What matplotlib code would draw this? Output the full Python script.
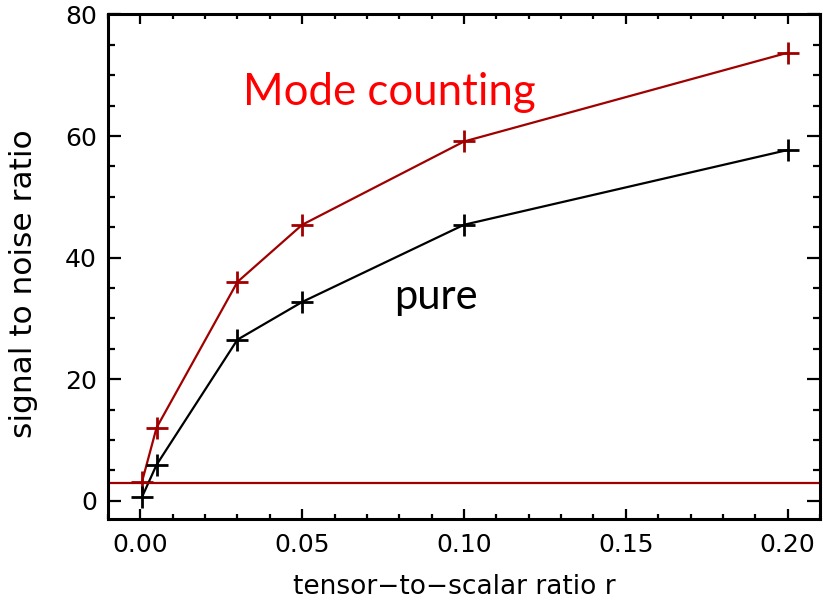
import matplotlib
matplotlib.use("Agg")
import matplotlib.pyplot as plt
from matplotlib.ticker import MultipleLocator

# values
r = [0.0005, 0.005, 0.03, 0.05, 0.10, 0.20]
snr_mode = [3.1, 12.0, 36.0, 45.4, 59.1, 73.7]
snr_pure = [0.6, 5.9, 26.5, 32.7, 45.4, 57.7]
threshold = 3.0

dark_red = '#a00000'

fig = plt.figure(figsize=(8.23, 6.02), dpi=100)
ax = fig.add_axes([0.1312, 0.1379, 0.8652, 0.8381])

ax.plot(r, snr_mode, color=dark_red, lw=1.6, marker='+', ms=16, mew=2)
ax.plot(r, snr_pure, color='black', lw=1.6, marker='+', ms=16, mew=2)
ax.axhline(threshold, color=dark_red, lw=1.6)

ax.set_xlim(-0.01, 0.21)
ax.set_ylim(-3, 80)
ax.xaxis.set_major_locator(MultipleLocator(0.05))
ax.xaxis.set_minor_locator(MultipleLocator(0.01))
ax.yaxis.set_major_locator(MultipleLocator(20))
ax.yaxis.set_minor_locator(MultipleLocator(5))
ax.xaxis.set_major_formatter(lambda v, p: f'{v:.2f}')

for s in ax.spines.values():
    s.set_linewidth(2.2)
ax.tick_params(which='both', direction='in', top=True, right=True, width=1.6,
               labelsize=18)
ax.tick_params(axis='x', which='major', length=7, pad=10)
ax.tick_params(axis='x', which='minor', length=3.3)
ax.tick_params(axis='y', which='major', length=9.5, pad=8)
ax.tick_params(axis='y', which='minor', length=5)

ax.set_xlabel('tensor\u2212to\u2212scalar ratio r', fontsize=19)
ax.set_ylabel('signal to noise ratio', fontsize=22.5)
ax.xaxis.set_label_coords(0.487, -0.110)
ax.yaxis.set_label_coords(-0.098, 0.467)

ax.text(0.0316, 65.1, 'Mode counting', color='red', fontsize=31.5, family='Lato')
ax.text(0.0783, 31.5, 'pure', color='black', fontsize=30, family='Lato')

fig.savefig('out.png', dpi=100)
